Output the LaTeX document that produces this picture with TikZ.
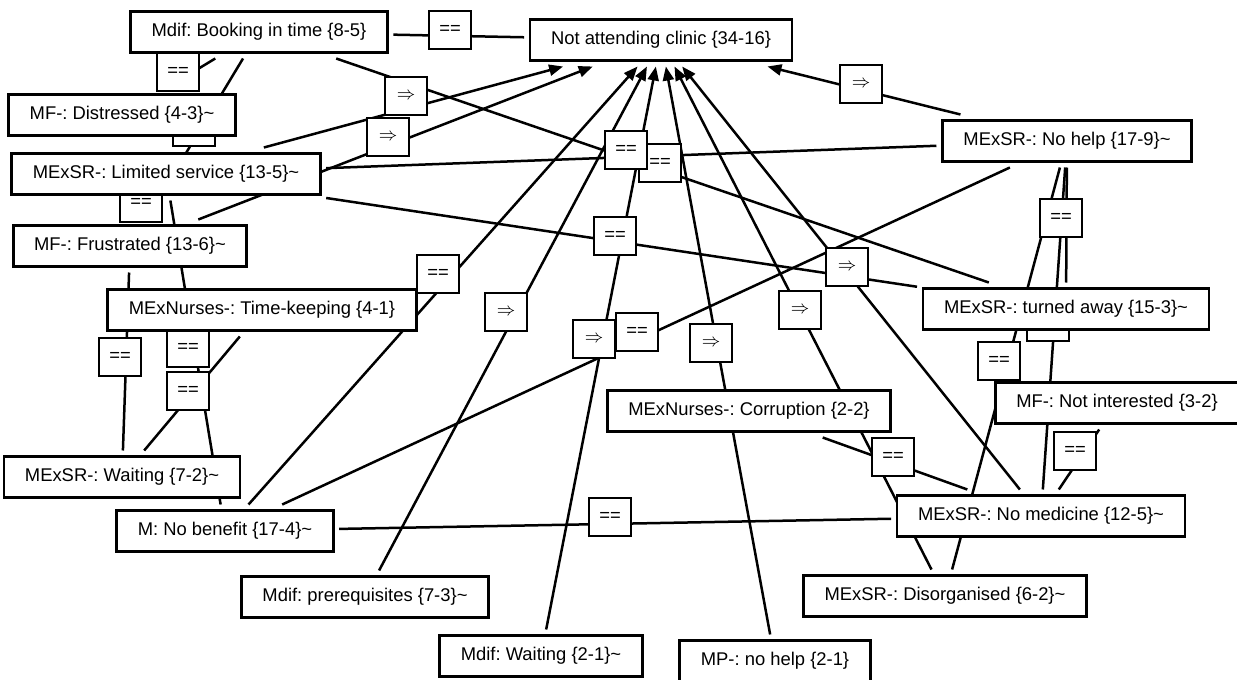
\documentclass[tikz,border=0pt]{standalone}
\usepackage{fontspec}
\setmainfont{Liberation Sans}
\usetikzlibrary{arrows.meta}
\frenchspacing

\pgfdeclarelayer{edges}
\pgfdeclarelayer{labels}
\pgfsetlayers{edges,labels,main}

\begin{document}
\begin{tikzpicture}[x=0.5pt, y=-0.5pt,
    code/.style={rectangle, draw, fill=white, line width=1.4pt, inner xsep=10.5pt, minimum height=20.5pt, outer sep=3pt, font=\fontsize{9.2}{11}\selectfont},
    rel/.style={rectangle, draw, fill=white, line width=1.4pt, inner sep=0pt, minimum width=21pt, minimum height=19pt, font=\fontsize{9.2}{11}\selectfont},
    link/.style={line width=1.25pt},
    cause/.style={line width=1.25pt, -{Triangle[length=7pt, width=5.5pt]}}]
    \useasboundingbox (0,0) rectangle (1237,680);

    \node (target) [code] at (661,40) {Not attending clinic \{34-16\}};
    \node (booking) [code] at (259,32) {Mdif: Booking in time \{8-5\}};
    \node (distressed) [code] at (122,115) {MF-: Distressed \{4-3\}\textasciitilde};
    \node (limited) [code] at (166,174) {MExSR-: Limited service \{13-5\}\textasciitilde};
    \node (frustrated) [code] at (130,246) {MF-: Frustrated \{13-6\}\textasciitilde};
    \node (timekeeping) [code] at (262,310) {MExNurses-: Time-keeping \{4-1\}};
    \node (waitsr) [code] at (122,477) {MExSR-: Waiting \{7-2\}\textasciitilde};
    \node (nobenefit) [code] at (225,531) {M: No benefit \{17-4\}\textasciitilde};
    \node (prereq) [code] at (365,597) {Mdif: prerequisites \{7-3\}\textasciitilde};
    \node (waitdif) [code] at (541,656) {Mdif: Waiting \{2-1\}\textasciitilde};
    \node (nohelpmp) [code] at (775,661) {MP-: no help \{2-1\}};
    \node (corruption) [code] at (749,411) {MExNurses-: Corruption \{2-2\}};
    \node (nohelp) [code] at (1067,141) {MExSR-: No help \{17-9\}\textasciitilde};
    \node (turned) [code] at (1066,309) {MExSR-: turned away \{15-3\}\textasciitilde};
    \node (notint) [code] at (1117,403) {MF-: Not interested \{3-2\}};
    \node (nomed) [code] at (1041,516) {MExSR-: No medicine \{12-5\}\textasciitilde};
    \node (disorg) [code] at (945,596) {MExSR-: Disorganised \{6-2\}\textasciitilde};

    \begin{pgfonlayer}{edges}
    \draw [cause] (limited) -- (target);
    \draw [cause] (frustrated) -- (target);
    \draw [cause] (nobenefit) -- (target);
    \draw [cause] (prereq) -- (target);
    \draw [cause] (waitdif) -- (target);
    \draw [cause] (nohelpmp) -- (target);
    \draw [cause] (disorg) -- (target);
    \draw [cause] (nomed) -- (target);
    \draw [cause] (nohelp) -- (target);
    \draw [link] (booking) -- (target);
    \draw [link] (booking) -- (distressed);
    \draw [link] (booking) -- (frustrated);
    \draw [link] (booking) -- (turned);
    \draw [link] (limited) -- (frustrated);
    \draw [link] (limited) -- (nohelp);
    \draw [link] (limited) -- (turned);
    \draw [link] (limited) -- (nobenefit);
    \draw [link] (frustrated) -- (waitsr);
    \draw [link] (timekeeping) -- (waitsr);
    \draw [link] (nohelp) -- (nobenefit);
    \draw [link] (nohelp) -- (turned);
    \draw [link] (nohelp) -- (nomed);
    \draw [link] (nohelp) -- (disorg);
    \draw [link] (notint) -- (nomed);
    \draw [link] (corruption) -- (nomed);
    \draw [link] (nobenefit) -- (nomed);
    \end{pgfonlayer}

    \begin{pgfonlayer}{labels}
    \node (r1) [rel] at (450,30) {==};
    \node (r2) [rel] at (178,72) {==};
    \node (r3) [rel] at (194,127) {};
    \node (r4) [rel] at (406,96) {$\Rightarrow$};
    \node (r5) [rel] at (388,137) {$\Rightarrow$};
    \node (r6) [rel] at (141,203) {==};
    \node (r7) [rel] at (660,163) {==};
    \node (r8) [rel] at (626,150) {==};
    \node (r9) [rel] at (615,236) {==};
    \node (r10) [rel] at (438,274) {==};
    \node (r11) [rel] at (506,312) {$\Rightarrow$};
    \node (r12) [rel] at (594,339) {$\Rightarrow$};
    \node (r13) [rel] at (637,332) {==};
    \node (r14) [rel] at (711,343) {$\Rightarrow$};
    \node (r15) [rel] at (800,310) {$\Rightarrow$};
    \node (r16) [rel] at (847,267) {$\Rightarrow$};
    \node (r17) [rel] at (861,84) {$\Rightarrow$};
    \node (r18) [rel] at (1061,218) {==};
    \node (r19) [rel] at (1048,322) {};
    \node (r20) [rel] at (999,361) {==};
    \node (r21) [rel] at (1075,451) {==};
    \node (r22) [rel] at (893,457) {==};
    \node (r23) [rel] at (610,517) {==};
    \node (r24) [rel] at (188,348) {==};
    \node (r25) [rel] at (188,391) {==};
    \node (r26) [rel] at (120,357) {==};
    \end{pgfonlayer}
\end{tikzpicture}
\end{document}
